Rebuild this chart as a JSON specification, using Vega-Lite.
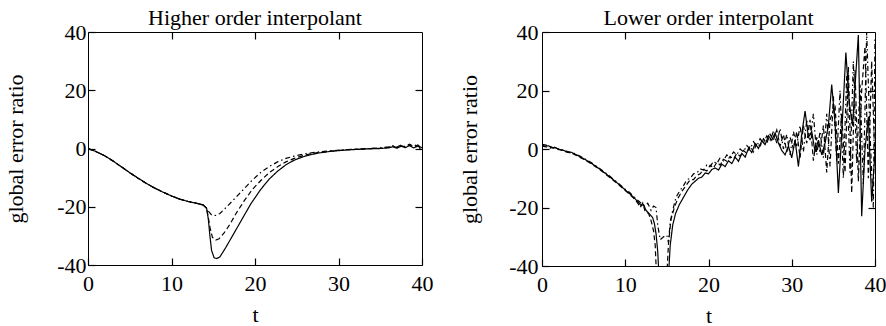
{
  "$schema": "https://vega.github.io/schema/vega-lite/v6.json",
  "background": "white",
  "padding": {"left": 4, "top": 6, "right": 2, "bottom": 2},
  "bounds": "flush",
  "spacing": 120,
  "config": {
    "view": {"stroke": "black", "strokeWidth": 1},
    "font": "Liberation Serif",
    "axis": {
      "labelFont": "Liberation Serif", "labelFontSize": 22, "labelColor": "black",
      "titleFont": "Liberation Serif", "titleFontSize": 22, "titleFontWeight": "normal", "titleColor": "black",
      "ticks": true, "tickColor": "black", "tickSize": 7, "tickWidth": 1.2, "offset": -7, "zindex": 1,
      "grid": false, "domain": false, "labelFlush": false
    },
    "title": {"font": "Liberation Serif", "fontSize": 22, "fontWeight": "normal", "color": "black", "offset": -9, "frame": "group"}
  },
  "datasets": {
    "hi": [
      {"s":"a","t":0,"v":0},{"s":"a","t":1,"v":-1.1},{"s":"a","t":2,"v":-2.5},{"s":"a","t":3,"v":-4.3},{"s":"a","t":4,"v":-6.3},{"s":"a","t":5,"v":-8.3},{"s":"a","t":6,"v":-10.2},{"s":"a","t":7,"v":-12},{"s":"a","t":8,"v":-13.6},{"s":"a","t":9,"v":-15},{"s":"a","t":10,"v":-16.3},{"s":"a","t":11,"v":-17.4},{"s":"a","t":12,"v":-18.2},{"s":"a","t":13,"v":-18.8},{"s":"a","t":13.8,"v":-19.4},{"s":"a","t":14.2,"v":-20.5},
      {"s":"a","t":14.4,"v":-24},{"s":"a","t":14.6,"v":-30},{"s":"a","t":14.8,"v":-35},{"s":"a","t":15.1,"v":-37.5},{"s":"a","t":15.4,"v":-37.8},{"s":"a","t":15.8,"v":-37.2},{"s":"a","t":16.5,"v":-34},{"s":"a","t":17.3,"v":-30},{"s":"a","t":18,"v":-26.5},{"s":"a","t":18.7,"v":-23},{"s":"a","t":19.5,"v":-19},{"s":"a","t":20.7,"v":-14},{"s":"a","t":21.7,"v":-10.5},{"s":"a","t":22.7,"v":-7.8},{"s":"a","t":23.7,"v":-5.6},{"s":"a","t":24.7,"v":-4},{"s":"a","t":26,"v":-2.6},{"s":"a","t":27.5,"v":-1.6},{"s":"a","t":29,"v":-1},{"s":"a","t":31,"v":-0.5},{"s":"a","t":33,"v":-0.2},{"s":"a","t":35,"v":0},{"s":"a","t":36,"v":0.2},{"s":"a","t":36.5,"v":0.6},{"s":"a","t":37,"v":0.1},{"s":"a","t":37.5,"v":0.8},{"s":"a","t":38,"v":0.3},{"s":"a","t":38.5,"v":1},{"s":"a","t":39,"v":0.2},{"s":"a","t":39.5,"v":0.8},{"s":"a","t":40,"v":0.3},
      {"s":"b","t":0,"v":0},{"s":"b","t":1,"v":-1.1},{"s":"b","t":2,"v":-2.5},{"s":"b","t":3,"v":-4.3},{"s":"b","t":4,"v":-6.3},{"s":"b","t":5,"v":-8.3},{"s":"b","t":6,"v":-10.2},{"s":"b","t":7,"v":-12},{"s":"b","t":8,"v":-13.6},{"s":"b","t":9,"v":-15},{"s":"b","t":10,"v":-16.3},{"s":"b","t":11,"v":-17.4},{"s":"b","t":12,"v":-18.2},{"s":"b","t":13,"v":-18.8},{"s":"b","t":13.8,"v":-19.4},{"s":"b","t":14.2,"v":-20.5},
      {"s":"b","t":14.4,"v":-23.5},{"s":"b","t":14.6,"v":-27},{"s":"b","t":14.9,"v":-30.5},{"s":"b","t":15.3,"v":-31.4},{"s":"b","t":15.7,"v":-31},{"s":"b","t":16.3,"v":-29},{"s":"b","t":17,"v":-26},{"s":"b","t":17.8,"v":-22},{"s":"b","t":18.7,"v":-18},{"s":"b","t":19.7,"v":-14},{"s":"b","t":20.7,"v":-11},{"s":"b","t":21.7,"v":-8.3},{"s":"b","t":22.7,"v":-6.3},{"s":"b","t":23.7,"v":-4.6},{"s":"b","t":24.7,"v":-3.4},{"s":"b","t":26,"v":-2.2},{"s":"b","t":27.5,"v":-1.4},{"s":"b","t":29,"v":-0.9},{"s":"b","t":31,"v":-0.4},{"s":"b","t":33,"v":-0.1},{"s":"b","t":35,"v":0.1},{"s":"b","t":36,"v":0.4},{"s":"b","t":36.5,"v":0.8},{"s":"b","t":37,"v":0.3},{"s":"b","t":37.5,"v":1},{"s":"b","t":38,"v":0.5},{"s":"b","t":38.5,"v":1.3},{"s":"b","t":39,"v":0.5},{"s":"b","t":39.5,"v":1.2},{"s":"b","t":40,"v":0.2},
      {"s":"c","t":0,"v":0},{"s":"c","t":1,"v":-1.1},{"s":"c","t":2,"v":-2.5},{"s":"c","t":3,"v":-4.3},{"s":"c","t":4,"v":-6.3},{"s":"c","t":5,"v":-8.3},{"s":"c","t":6,"v":-10.2},{"s":"c","t":7,"v":-12},{"s":"c","t":8,"v":-13.6},{"s":"c","t":9,"v":-15},{"s":"c","t":10,"v":-16.3},{"s":"c","t":11,"v":-17.4},{"s":"c","t":12,"v":-18.2},{"s":"c","t":13,"v":-18.8},{"s":"c","t":13.8,"v":-19.4},{"s":"c","t":14.2,"v":-20.5},
      {"s":"c","t":14.4,"v":-21.5},{"s":"c","t":14.8,"v":-22.8},{"s":"c","t":15.3,"v":-23},{"s":"c","t":15.8,"v":-22.3},{"s":"c","t":16.7,"v":-19.8},{"s":"c","t":17.7,"v":-16.8},{"s":"c","t":18.7,"v":-13.8},{"s":"c","t":19.7,"v":-10.8},{"s":"c","t":20.7,"v":-8.2},{"s":"c","t":21.7,"v":-6.2},{"s":"c","t":22.7,"v":-4.6},{"s":"c","t":23.7,"v":-3.4},{"s":"c","t":24.7,"v":-2.6},{"s":"c","t":26,"v":-1.8},{"s":"c","t":27.5,"v":-1.2},{"s":"c","t":29,"v":-0.8},{"s":"c","t":31,"v":-0.4},{"s":"c","t":33,"v":-0.1},{"s":"c","t":35,"v":0.2},{"s":"c","t":36,"v":0.6},{"s":"c","t":36.5,"v":1},{"s":"c","t":37,"v":0.5},{"s":"c","t":37.5,"v":1.2},{"s":"c","t":38,"v":0.6},{"s":"c","t":38.5,"v":1.5},{"s":"c","t":39,"v":0.8},{"s":"c","t":39.5,"v":1.4},{"s":"c","t":40,"v":-1.5}
    ],
    "lo": [
      {"s":"a","t":0,"v":1.3},{"s":"a","t":0.4,"v":1.0},{"s":"a","t":0.8,"v":1.1},{"s":"a","t":1.2,"v":0.4},{"s":"a","t":1.6,"v":0.5},{"s":"a","t":2,"v":-0.2},{"s":"a","t":2.5,"v":-0.4},{"s":"a","t":3,"v":-0.9},{"s":"a","t":3.5,"v":-1.1},{"s":"a","t":4,"v":-1.8},{"s":"a","t":4.5,"v":-2.5},{"s":"a","t":5,"v":-3.3},{"s":"a","t":6,"v":-5},{"s":"a","t":7,"v":-7},{"s":"a","t":8,"v":-9.2},{"s":"a","t":9,"v":-11.5},{"s":"a","t":10,"v":-14},{"s":"a","t":10.5,"v":-15.2},{"s":"a","t":11,"v":-16.5},{"s":"a","t":11.5,"v":-18},{"s":"a","t":11.9,"v":-19.3},{"s":"a","t":12.2,"v":-19},{"s":"a","t":12.5,"v":-21},{"s":"a","t":13,"v":-22.5},{"s":"a","t":13.3,"v":-23.5},{"s":"a","t":13.5,"v":-25.5},{"s":"a","t":13.7,"v":-29},{"s":"a","t":13.9,"v":-35},{"s":"a","t":14.05,"v":-43},{"s":"a","t":15.2,"v":-43},{"s":"a","t":15.4,"v":-33},{"s":"a","t":15.7,"v":-26},{"s":"a","t":16.05,"v":-22},{"s":"a","t":16.5,"v":-19},{"s":"a","t":17,"v":-16.5},{"s":"a","t":17.5,"v":-14},{"s":"a","t":18,"v":-12},{"s":"a","t":18.4,"v":-11},{"s":"a","t":18.8,"v":-10},{"s":"a","t":19.2,"v":-9.6},{"s":"a","t":19.6,"v":-8.2},{"s":"a","t":20,"v":-8.5},{"s":"a","t":20.4,"v":-7},{"s":"a","t":20.8,"v":-6.5},{"s":"a","t":21.2,"v":-7.2},{"s":"a","t":21.6,"v":-5.2},{"s":"a","t":22,"v":-6},{"s":"a","t":22.4,"v":-4},{"s":"a","t":22.8,"v":-5},{"s":"a","t":23.2,"v":-2.8},{"s":"a","t":23.6,"v":-4.2},{"s":"a","t":24,"v":-1.5},{"s":"a","t":24.4,"v":-2.8},{"s":"a","t":24.8,"v":0.2},{"s":"a","t":25.2,"v":-1.2},{"s":"a","t":25.6,"v":1.8},{"s":"a","t":26,"v":0.2},{"s":"a","t":26.4,"v":2.8},{"s":"a","t":26.8,"v":1.5},{"s":"a","t":27.2,"v":4.5},{"s":"a","t":27.6,"v":3},{"s":"a","t":28,"v":5.5},{"s":"a","t":28.4,"v":2},{"s":"a","t":28.8,"v":-0.5},{"s":"a","t":29.2,"v":-2},{"s":"a","t":29.6,"v":1},{"s":"a","t":30,"v":-3},{"s":"a","t":30.4,"v":3},{"s":"a","t":30.8,"v":-6},{"s":"a","t":31.2,"v":5},{"s":"a","t":31.6,"v":13},{"s":"a","t":32,"v":4},{"s":"a","t":32.4,"v":6},{"s":"a","t":32.8,"v":-1},{"s":"a","t":33.2,"v":3},{"s":"a","t":33.6,"v":-2},{"s":"a","t":34,"v":2},{"s":"a","t":34.4,"v":8},{"s":"a","t":34.8,"v":22},{"s":"a","t":35.2,"v":9},{"s":"a","t":35.6,"v":-15},{"s":"a","t":36,"v":5},{"s":"a","t":36.5,"v":33},{"s":"a","t":36.9,"v":16},{"s":"a","t":37.3,"v":8},{"s":"a","t":38,"v":39},{"s":"a","t":38.4,"v":-23},{"s":"a","t":38.8,"v":0},{"s":"a","t":39.2,"v":11},{"s":"a","t":39.6,"v":-18},{"s":"a","t":40,"v":-1},
      {"s":"b","t":0,"v":1.6},{"s":"b","t":0.5,"v":1.3},{"s":"b","t":1,"v":0.8},{"s":"b","t":1.5,"v":0.2},{"s":"b","t":2,"v":0},{"s":"b","t":2.5,"v":-0.6},{"s":"b","t":3,"v":-1.1},{"s":"b","t":3.5,"v":-1.3},{"s":"b","t":4,"v":-2},{"s":"b","t":5,"v":-3.5},{"s":"b","t":6,"v":-5.2},{"s":"b","t":7,"v":-7.2},{"s":"b","t":8,"v":-9.4},{"s":"b","t":9,"v":-11.7},{"s":"b","t":10,"v":-14.2},{"s":"b","t":10.5,"v":-15.5},{"s":"b","t":11,"v":-16.8},{"s":"b","t":11.5,"v":-18.5},{"s":"b","t":11.8,"v":-20},{"s":"b","t":12.1,"v":-18.5},{"s":"b","t":12.4,"v":-21.5},{"s":"b","t":12.8,"v":-22},{"s":"b","t":13.1,"v":-24.5},{"s":"b","t":13.4,"v":-28},{"s":"b","t":13.6,"v":-33},{"s":"b","t":13.75,"v":-43},{"s":"b","t":15.0,"v":-43},{"s":"b","t":15.2,"v":-32},{"s":"b","t":15.5,"v":-24},{"s":"b","t":15.9,"v":-20},{"s":"b","t":16.3,"v":-17},{"s":"b","t":16.8,"v":-14.5},{"s":"b","t":17.3,"v":-12.5},{"s":"b","t":17.8,"v":-10.5},{"s":"b","t":18.2,"v":-10.5},{"s":"b","t":18.6,"v":-9},{"s":"b","t":19,"v":-8.5},{"s":"b","t":19.4,"v":-7},{"s":"b","t":19.8,"v":-7.5},{"s":"b","t":20.2,"v":-5.5},{"s":"b","t":20.6,"v":-6.5},{"s":"b","t":21,"v":-4.5},{"s":"b","t":21.4,"v":-5.5},{"s":"b","t":21.8,"v":-3.5},{"s":"b","t":22.2,"v":-4.2},{"s":"b","t":22.6,"v":-2.5},{"s":"b","t":23,"v":-3.5},{"s":"b","t":23.4,"v":-1.5},{"s":"b","t":23.8,"v":-2.5},{"s":"b","t":24.2,"v":-0.5},{"s":"b","t":24.6,"v":-1.5},{"s":"b","t":25,"v":1},{"s":"b","t":25.4,"v":-1},{"s":"b","t":25.8,"v":2},{"s":"b","t":26.2,"v":1},{"s":"b","t":26.6,"v":3.5},{"s":"b","t":27,"v":2},{"s":"b","t":27.4,"v":5},{"s":"b","t":27.8,"v":3},{"s":"b","t":28.2,"v":6.5},{"s":"b","t":28.6,"v":1},{"s":"b","t":29,"v":5},{"s":"b","t":29.4,"v":-1},{"s":"b","t":29.8,"v":4},{"s":"b","t":30.2,"v":0},{"s":"b","t":30.6,"v":6},{"s":"b","t":31,"v":-3},{"s":"b","t":31.4,"v":8},{"s":"b","t":31.8,"v":2},{"s":"b","t":32.2,"v":10},{"s":"b","t":32.6,"v":-4},{"s":"b","t":33,"v":4},{"s":"b","t":33.4,"v":-1},{"s":"b","t":33.8,"v":8},{"s":"b","t":34.2,"v":-8},{"s":"b","t":34.6,"v":10},{"s":"b","t":35.2,"v":15},{"s":"b","t":35.6,"v":-5},{"s":"b","t":36,"v":12},{"s":"b","t":36.4,"v":-8},{"s":"b","t":36.8,"v":28},{"s":"b","t":37.2,"v":-15},{"s":"b","t":37.6,"v":27},{"s":"b","t":38,"v":-11},{"s":"b","t":38.4,"v":20},{"s":"b","t":38.8,"v":35},{"s":"b","t":39.2,"v":-10},{"s":"b","t":39.6,"v":30},{"s":"b","t":40,"v":-5},
      {"s":"c","t":0,"v":1.0},{"s":"c","t":0.5,"v":0.7},{"s":"c","t":1,"v":0.3},{"s":"c","t":1.5,"v":0.6},{"s":"c","t":2,"v":-0.1},{"s":"c","t":2.5,"v":-0.3},{"s":"c","t":3,"v":-0.8},{"s":"c","t":3.5,"v":-1.4},{"s":"c","t":4,"v":-1.6},{"s":"c","t":5,"v":-3.1},{"s":"c","t":6,"v":-4.8},{"s":"c","t":7,"v":-6.8},{"s":"c","t":8,"v":-9},{"s":"c","t":9,"v":-11.3},{"s":"c","t":10,"v":-13.8},{"s":"c","t":10.5,"v":-14.8},{"s":"c","t":11,"v":-16.2},{"s":"c","t":11.5,"v":-17.5},{"s":"c","t":12,"v":-18.8},{"s":"c","t":12.3,"v":-19.5},{"s":"c","t":12.7,"v":-18.5},{"s":"c","t":13.1,"v":-21},{"s":"c","t":13.4,"v":-19.5},{"s":"c","t":13.7,"v":-20},{"s":"c","t":13.9,"v":-26},{"s":"c","t":14.2,"v":-31},{"s":"c","t":14.6,"v":-30},{"s":"c","t":15.0,"v":-29.5},{"s":"c","t":15.2,"v":-32},{"s":"c","t":15.4,"v":-25},{"s":"c","t":15.7,"v":-21},{"s":"c","t":16.1,"v":-16.5},{"s":"c","t":16.5,"v":-14.5},{"s":"c","t":17,"v":-12.5},{"s":"c","t":17.4,"v":-10.5},{"s":"c","t":17.8,"v":-10},{"s":"c","t":18.2,"v":-8.5},{"s":"c","t":18.6,"v":-8.2},{"s":"c","t":19,"v":-6.8},{"s":"c","t":19.4,"v":-7.2},{"s":"c","t":19.8,"v":-5.5},{"s":"c","t":20.2,"v":-6},{"s":"c","t":20.6,"v":-4.2},{"s":"c","t":21,"v":-5},{"s":"c","t":21.4,"v":-3},{"s":"c","t":21.8,"v":-4},{"s":"c","t":22.2,"v":-2},{"s":"c","t":22.6,"v":-3},{"s":"c","t":23,"v":-1},{"s":"c","t":23.4,"v":-2},{"s":"c","t":23.8,"v":0},{"s":"c","t":24.2,"v":-1},{"s":"c","t":24.6,"v":1.2},{"s":"c","t":25,"v":0},{"s":"c","t":25.4,"v":2.5},{"s":"c","t":25.8,"v":1},{"s":"c","t":26.2,"v":3.5},{"s":"c","t":26.6,"v":2},{"s":"c","t":27,"v":4.5},{"s":"c","t":27.4,"v":3},{"s":"c","t":27.8,"v":6},{"s":"c","t":28.2,"v":2},{"s":"c","t":28.6,"v":7},{"s":"c","t":29,"v":0},{"s":"c","t":29.4,"v":5},{"s":"c","t":29.8,"v":-2},{"s":"c","t":30.2,"v":6},{"s":"c","t":30.6,"v":1},{"s":"c","t":31,"v":8},{"s":"c","t":31.4,"v":-1},{"s":"c","t":31.8,"v":10},{"s":"c","t":32.2,"v":3},{"s":"c","t":32.6,"v":12},{"s":"c","t":33,"v":-2},{"s":"c","t":33.4,"v":6},{"s":"c","t":33.8,"v":-3},{"s":"c","t":34.2,"v":12},{"s":"c","t":34.6,"v":-6},{"s":"c","t":35,"v":18},{"s":"c","t":35.4,"v":-4},{"s":"c","t":35.8,"v":20},{"s":"c","t":36.2,"v":-10},{"s":"c","t":36.6,"v":25},{"s":"c","t":37,"v":-8},{"s":"c","t":37.4,"v":30},{"s":"c","t":37.8,"v":-5},{"s":"c","t":38.2,"v":22},{"s":"c","t":38.6,"v":-12},{"s":"c","t":39,"v":40},{"s":"c","t":39.4,"v":5},{"s":"c","t":39.8,"v":-20},{"s":"c","t":40,"v":38}
    ]
  },
  "hconcat": [
    {
      "width": 334, "height": 233,
      "title": "Higher order interpolant",
      "data": {"name": "hi"},
      "resolve": {"axis": {"x": "independent", "y": "independent"}},
      "layer": [
        {
          "mark": {"type": "line", "clip": true, "color": "black", "strokeWidth": 1.2},
          "encoding": {
            "x": {"field": "t", "type": "quantitative", "scale": {"domain": [0, 40], "nice": false, "zero": false},
                  "axis": {"orient": "bottom", "values": [0, 10, 20, 30, 40], "labelPadding": 8, "title": "t", "titlePadding": 10}},
            "y": {"field": "v", "type": "quantitative", "scale": {"domain": [-40, 40], "nice": false},
                  "axis": {"orient": "left", "values": [-40, -20, 0, 20, 40], "labelPadding": 2, "labelExpr": "'' + datum.value", "title": "global error ratio", "titlePadding": 29}},
            "strokeDash": {"field": "s", "type": "nominal", "scale": {"domain": ["a", "b", "c"], "range": [[1, 0], [5, 3], [5, 3, 1.5, 3]]}, "legend": null}
          }
        },
        {
          "mark": {"type": "line", "opacity": 0},
          "encoding": {
            "x": {"field": "t", "type": "quantitative", "axis": {"orient": "top", "values": [10, 20, 30], "labels": false, "title": null}},
            "y": {"field": "v", "type": "quantitative", "axis": {"orient": "right", "values": [-20, 0, 20], "labels": false, "title": null}},
            "detail": {"field": "s"}
          }
        }
      ]
    },
    {
      "width": 333, "height": 234,
      "title": "Lower order interpolant",
      "data": {"name": "lo"},
      "resolve": {"axis": {"x": "independent", "y": "independent"}},
      "layer": [
        {
          "mark": {"type": "line", "clip": true, "color": "black", "strokeWidth": 1.2},
          "encoding": {
            "x": {"field": "t", "type": "quantitative", "scale": {"domain": [0, 40], "nice": false, "zero": false},
                  "axis": {"orient": "bottom", "values": [0, 10, 20, 30, 40], "labelPadding": 8, "title": "t", "titlePadding": 10}},
            "y": {"field": "v", "type": "quantitative", "scale": {"domain": [-40, 40], "nice": false},
                  "axis": {"orient": "left", "values": [-40, -20, 0, 20, 40], "labelPadding": 4, "labelExpr": "'' + datum.value", "title": "global error ratio", "titlePadding": 27}},
            "strokeDash": {"field": "s", "type": "nominal", "scale": {"domain": ["a", "b", "c"], "range": [[1, 0], [5, 3], [2, 2]]}, "legend": null}
          }
        },
        {
          "mark": {"type": "line", "opacity": 0},
          "encoding": {
            "x": {"field": "t", "type": "quantitative", "axis": {"orient": "top", "values": [10, 20, 30], "labels": false, "title": null}},
            "y": {"field": "v", "type": "quantitative", "axis": {"orient": "right", "values": [-20, 0, 20], "labels": false, "title": null}},
            "detail": {"field": "s"}
          }
        }
      ]
    }
  ]
}
